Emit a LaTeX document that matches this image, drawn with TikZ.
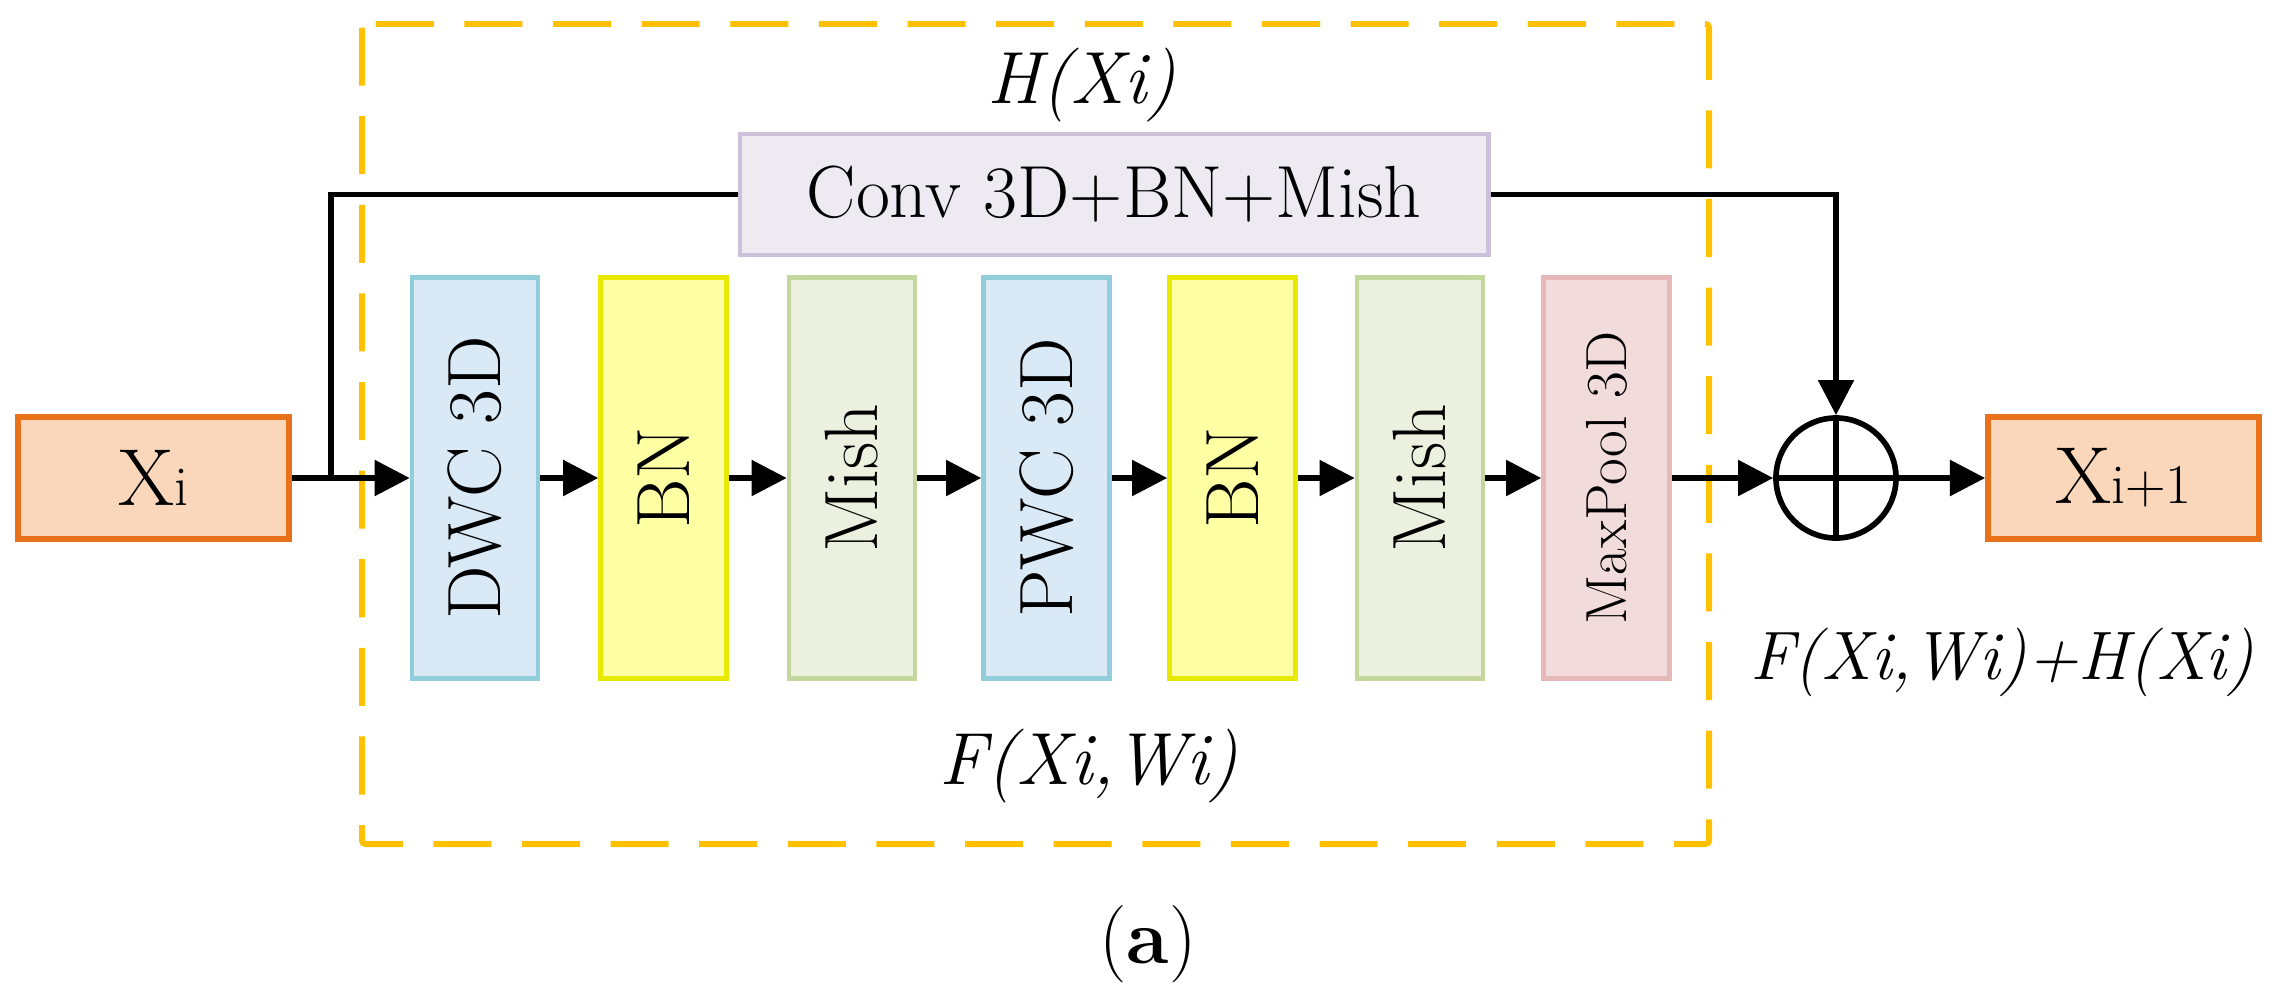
\documentclass[tikz,border=0pt]{standalone}
\usetikzlibrary{arrows.meta}
\definecolor{dashor}{HTML}{FFC000}
\definecolor{xfill}{HTML}{FAD7BA}
\definecolor{xdraw}{HTML}{E8711A}
\definecolor{cfill}{HTML}{EDEAF2}
\definecolor{cdraw}{HTML}{CCC1DA}
\definecolor{bfill}{HTML}{DAE9F6}
\definecolor{bdraw}{HTML}{92CDDC}
\definecolor{yfill}{HTML}{FFFFA3}
\definecolor{ydraw}{HTML}{E8E800}
\definecolor{gfill}{HTML}{EBF1DE}
\definecolor{gdraw}{HTML}{C3D69B}
\definecolor{rfill}{HTML}{F2DCDB}
\definecolor{rdraw}{HTML}{E6B9B8}
\begin{document}
\begin{tikzpicture}[x=0.01cm,y=-0.01cm,
  xbox/.style={draw=xdraw,fill=xfill,line width=1.6pt,minimum width=2.71cm,minimum height=1.22cm,inner sep=0pt},
  blk/.style={line width=1.3pt,minimum width=1.26cm,minimum height=4.01cm,inner sep=0pt,font=\fontsize{21.5}{25}\selectfont},
  conn/.style={line width=1.5pt,black},
  arr/.style={conn,-{Triangle[length=10pt,width=10pt]}},
  dashbox/.style={draw=dashor,line width=1.7pt,dash pattern=on 16.5pt off 8.7pt,rounded corners=1pt},
  lab/.style={font=\fontsize{21}{25}\selectfont\itshape,inner sep=0pt}]
\useasboundingbox (0,0) rectangle (2278,993);
\draw[dashbox] (362,24) rectangle (1709,844);
\node[xbox] (xi) at (153.5,478) {\fontsize{23}{27}\selectfont X\fontsize{16}{19}\selectfont i};
\node[xbox] (xip) at (2123.5,478) {\fontsize{23}{27}\selectfont X\fontsize{16}{19}\selectfont i+1};
\node[draw=cdraw,fill=cfill,line width=1.3pt,minimum width=7.48cm,minimum height=1.21cm,inner sep=0pt,font=\fontsize{21}{25}\selectfont] (conv) at (1114,194.5) {Conv 3D+BN+Mish};
\node[blk,draw=bdraw,fill=bfill] (dwc) at (475,478) {\rotatebox{90}{DWC 3D}};
\node[blk,draw=ydraw,fill=yfill] (bn1) at (663.5,478) {\rotatebox{90}{BN}};
\node[blk,draw=gdraw,fill=gfill] (mish1) at (852,478) {\rotatebox{90}{Mish}};
\node[blk,draw=bdraw,fill=bfill] (pwc) at (1046.5,478) {\rotatebox{90}{PWC 3D}};
\node[blk,draw=ydraw,fill=yfill] (bn2) at (1232.5,478) {\rotatebox{90}{BN}};
\node[blk,draw=gdraw,fill=gfill] (mish2) at (1420,478) {\rotatebox{90}{Mish}};
\node[blk,draw=rdraw,fill=rfill,font=\fontsize{16.5}{19}\selectfont] (mp) at (1606.5,478) {\rotatebox{90}{MaxPool 3D}};
\node[draw,circle,line width=1.6pt,minimum size=1.2cm,inner sep=0pt] (sum) at (1836,478) {};
\draw[conn] (sum.north) -- (sum.south);
\draw[conn] (sum.west) -- (sum.east);
\coordinate (br) at (331,478);
\draw[arr] (xi.east) -- (dwc.west);
\draw[conn] (br) |- (conv.west);
\draw[arr] (conv.east) -| (sum.north);
\draw[arr] (dwc.east) -- (bn1.west);
\draw[arr] (bn1.east) -- (mish1.west);
\draw[arr] (mish1.east) -- (pwc.west);
\draw[arr] (pwc.east) -- (bn2.west);
\draw[arr] (bn2.east) -- (mish2.west);
\draw[arr] (mish2.east) -- (mp.west);
\draw[arr] (mp.east) -- (sum.west);
\draw[arr] (sum.east) -- (xip.west);
\node[lab] (hx) at (1082,85) {H(Xi)};
\node[lab] (fx) at (1089,766) {F(Xi,Wi)};
\node[lab,font=\fontsize{19.5}{23}\selectfont\itshape] (fh) at (2002,662) {F(Xi,Wi)+H(Xi)};
\node[font=\fontsize{22}{26}\selectfont,inner sep=0pt] (cap) at (1148,944) {(\textbf{a})};
\end{tikzpicture}
\end{document}
